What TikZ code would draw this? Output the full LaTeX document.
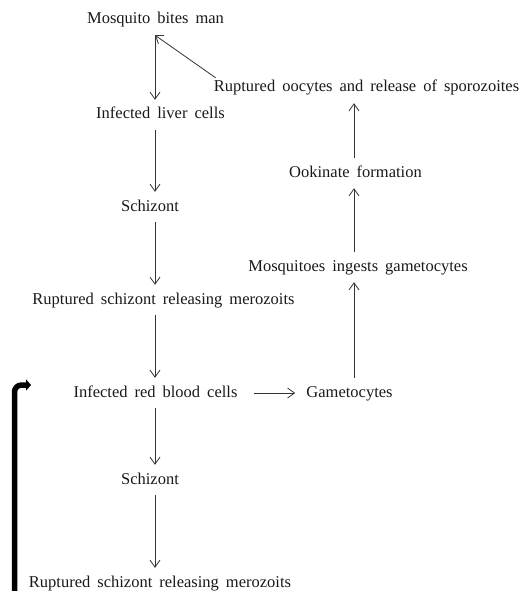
\documentclass[tikz,border=0pt]{standalone}
\usepackage{fontspec}
\setmainfont{Liberation Serif}
\usetikzlibrary{arrows.meta}

\newcommand{\stagefont}{\fontsize{16.5}{20}\selectfont\spaceskip=7pt plus 2pt\relax}

\begin{document}
\begin{tikzpicture}[
  x=1pt, y=-1pt,
  > = {Straight Barb[length=7pt, width=10pt]},
  stagetext/.style={font=\stagefont, text=black!90,
                    inner xsep=6pt, inner ysep=7pt,
                    text height=12pt, text depth=4pt},
  arr/.style={->, black!80, line width=0.8pt},
  bigarr/.style={-{Triangle[length=5pt, width=11pt]}, line width=5.5pt,
                 rounded corners=7pt}
]
  \useasboundingbox (0,0) rectangle (531,591);

  % columns for the vertical arrows
  \coordinate (col)  at (155, 0);
  \coordinate (colr) at (354, 0);

  % left column: stages in man
  \node[stagetext] (bites)  at (155.5, 20)  {Mosquito bites man};
  \node[stagetext] (liver)  at (160.5, 115) {Infected liver cells};
  \node[stagetext] (schiz)  at (150, 207)   {Schizont};
  \node[stagetext] (rupt)   at (163.5, 300) {Ruptured schizont releasing merozoits};
  \node[stagetext] (rbc)    at (155.5, 393) {Infected red blood cells};
  \node[stagetext] (schizb) at (150, 480)   {Schizont};
  \node[stagetext] (ruptb)  at (160, 583)   {Ruptured schizont releasing merozoits};

  % right column: stages in mosquito
  \node[stagetext] (gam)    at (349.5, 393) {Gametocytes};
  \node[stagetext] (ingest) at (358, 267)   {Mosquitoes ingests gametocytes};
  \node[stagetext] (ook)    at (355.5, 173) {Ookinate formation};
  \node[stagetext] (oocyte) at (366.5, 88)  {Ruptured oocytes and release of sporozoites};

  \draw[arr] (bites.south -| col)  -- (liver.north -| col);
  \draw[arr] (liver.south -| col)  -- (schiz.north -| col);
  \draw[arr] (schiz.south -| col)  -- (rupt.north -| col);
  \draw[arr] (rupt.south -| col)   -- (rbc.north -| col);
  \draw[arr] (rbc.south -| col)    -- (schizb.north -| col);
  \draw[arr] (schizb.south -| col) -- (ruptb.north -| col);

  \draw[arr, shorten <=10pt, shorten >=5pt] (rbc) -- (gam);
  \draw[arr] (gam.north -| colr)    -- (ingest.south -| colr);
  \draw[arr] (ingest.north -| colr) -- (ook.south -| colr);
  \draw[arr] (ook.north -| colr)    -- (oocyte.south -| colr);
  \draw[arr] ([shift={(8pt,-5pt)}]oocyte.north west) -- (bites.south -| col);

  % repeated cycle in the blood
  \coordinate (loopbot) at (14.5, 591);
  \coordinate (loopend) at (31, 385);
  \draw[bigarr] (loopbot) |- (loopend);
\end{tikzpicture}
\end{document}
